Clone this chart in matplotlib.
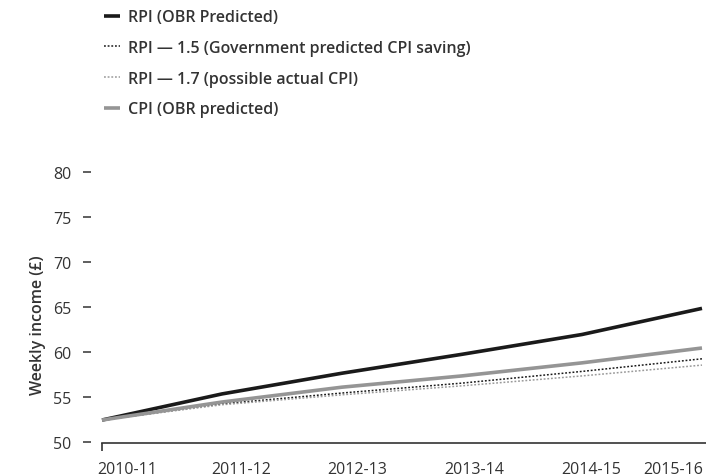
import matplotlib.pyplot as plt

plt.rcParams['font.family'] = ['Open Sans', 'DejaVu Sans']

# Data (weekly income, £)
years = ['2010-11', '2011-12', '2012-13', '2013-14', '2014-15', '2015-16']
rpi = [52.4, 55.3, 57.6, 59.7, 61.9, 64.8]
rpi_15 = [52.4, 54.2, 55.4, 56.5, 57.8, 59.2]
rpi_17 = [52.4, 54.1, 55.2, 56.2, 57.3, 58.5]
cpi = [52.4, 54.4, 56.05, 57.3, 58.75, 60.4]
yticks = [50, 55, 60, 65, 70, 75, 80]

W, H = 706, 477
fig = plt.figure(figsize=(W / 100, H / 100), dpi=100)
ax = fig.add_axes([91 / W, (H - 444) / H, (W - 91) / W, (444 - 168) / H])

x = range(len(years))
l1, = ax.plot(x, rpi, color='#1a1a1a', lw=2.6, solid_capstyle='butt')
l2, = ax.plot(x, rpi_15, color='#1a1a1a', lw=1.1, ls=(0, (1.2, 1.2)))
l3, = ax.plot(x, rpi_17, color='#9a9a9a', lw=1.1, ls=(0, (1.2, 1.2)))
l4, = ax.plot(x, cpi, color='#959595', lw=2.6, solid_capstyle='butt')

ax.set_xlim(-11 / 120, 5 + 4 / 120)
ax.set_ylim(49.85, 80.5)

for s in ['top', 'right', 'left']:
    ax.spines[s].set_visible(False)
ax.spines['bottom'].set_bounds(0, 5 + 4 / 120)
ax.spines['bottom'].set_color('#333333')
ax.spines['bottom'].set_linewidth(1.2)

# y ticks drawn as short dashes detached from the plot
ax.set_yticks(yticks)
ax.tick_params(axis='y', length=6, width=1.1, color='#333333', pad=8,
               labelsize=11.5, labelcolor='#333333')

# x labels sit slightly right of the data points
label_pos = [0.21, 1.16, 2.13, 3.1, 4.08, 4.76]
ax.set_xticks(label_pos, years)
ax.tick_params(axis='x', length=0, pad=13, labelsize=11.5, labelcolor='#333333')
ax.set_xticks([0], minor=True)
ax.tick_params(axis='x', which='minor', length=6, width=1.2, color='#333333')

fig.text(38 / W, (H - 325) / H, 'Weekly income (£)', rotation=90,
         ha='center', va='center', fontsize=11.5, fontweight='semibold',
         color='#333333')

fig.legend([l1, l2, l3, l4],
           ['RPI (OBR Predicted)',
            'RPI \u2014 1.5 (Government predicted CPI saving)',
            'RPI \u2014 1.7 (possible actual CPI)',
            'CPI (OBR predicted)'],
           loc='upper left', bbox_to_anchor=(90 / W, 1 + 4 / H),
           frameon=False, handlelength=0.95, handletextpad=0.5,
           labelspacing=0.92, prop={'size': 11.5, 'weight': 'semibold'},
           labelcolor='#333333')

fig.savefig('out.png', dpi=100)
